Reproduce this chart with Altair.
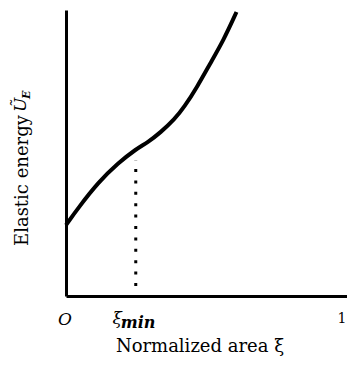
import altair as alt
import pandas as pd

# Curve samples (normalized area vs elastic energy)
xi = [0.0, 0.046, 0.117, 0.187, 0.251, 0.293, 0.339, 0.389, 0.424, 0.470, 0.516, 0.565, 0.611]
energy = [0.248, 0.311, 0.399, 0.465, 0.514, 0.537, 0.572, 0.618, 0.661, 0.731, 0.812, 0.895, 0.993]
xi_min = 0.25
drop_top = 0.475
drop_bottom = 0.035
tick_pos = [0.0, 1.0]
tick_text = ["O", "1"]

W, H = 281, 286
FONT = "DejaVu Serif"

curve_df = pd.DataFrame({"xi": xi, "U": energy})
xs = alt.Scale(domain=[0, 1.007], nice=False, zero=False)
ys = alt.Scale(domain=[0, 1], nice=False, zero=False)

base_axis_x = alt.Axis(domain=True, domainWidth=3, domainColor="black", ticks=False, labels=False,
                       grid=False, title=None)
base_axis_y = alt.Axis(domain=True, domainWidth=3, domainColor="black", ticks=False, labels=False,
                       grid=False, title=None)

curve = alt.Chart(curve_df).mark_line(color="black", strokeWidth=4, interpolate="basis").encode(
    x=alt.X("xi:Q", scale=xs, axis=base_axis_x),
    y=alt.Y("U:Q", scale=ys, axis=base_axis_y),
)

drop = alt.Chart(pd.DataFrame({"x": [xi_min], "y": [drop_bottom], "y2": [drop_top]})).mark_rule(
    color="black", strokeWidth=3, strokeDash=[3, 8.4]
).encode(x=alt.X("x:Q", scale=xs), y=alt.Y("y:Q", scale=ys), y2="y2:Q")

ticks_df = pd.DataFrame({"x": tick_pos, "t": tick_text})
tick_O = alt.Chart(ticks_df.iloc[[0]]).mark_text(
    font=FONT, fontSize=17, fontStyle="italic", color="black", baseline="middle", dx=-1
).encode(x=alt.X("x:Q", scale=xs), y=alt.value(H + 24), text="t:N")
tick_1 = alt.Chart(ticks_df.iloc[[1]]).mark_text(
    font=FONT, fontSize=14, color="black", baseline="middle", dx=-3
).encode(x=alt.X("x:Q", scale=xs), y=alt.value(H + 23), text="t:N")

xi_df = pd.DataFrame({"x": [xi_min], "a": ["ξ"], "b": ["min"]})
xi_lab = alt.Chart(xi_df).mark_text(
    font=FONT, fontSize=17, fontStyle="italic", color="black", align="right", baseline="middle", dx=-14
).encode(x=alt.X("x:Q", scale=xs), y=alt.value(H + 23), text="a:N")
min_lab = alt.Chart(xi_df).mark_text(
    font=FONT, fontSize=16, fontStyle="italic", fontWeight="bold", color="black", align="left",
    baseline="middle", dx=-15
).encode(x=alt.X("x:Q", scale=xs), y=alt.value(H + 27), text="b:N")

xtitle = alt.Chart(pd.DataFrame({"t": ["Normalized area ξ"]})).mark_text(
    font=FONT, fontSize=18, color="black", align="center", baseline="middle"
).encode(x=alt.value(200 - 66), y=alt.value(347 - 10), text="t:N")

ytitle = alt.Chart(pd.DataFrame({"t": ["Elastic energy"]})).mark_text(
    font=FONT, fontSize=18, color="black", align="left", baseline="middle", angle=270
).encode(x=alt.value(23 - 66), y=alt.value(246 - 10), text="t:N")
yU = alt.Chart(pd.DataFrame({"t": ["Ũ"]})).mark_text(
    font=FONT, fontSize=17, fontStyle="italic", color="black", align="left", baseline="middle", angle=270
).encode(x=alt.value(21 - 66), y=alt.value(112 - 10), text="t:N")
yE = alt.Chart(pd.DataFrame({"t": ["E"]})).mark_text(
    font=FONT, fontSize=11, fontStyle="italic", fontWeight="bold", color="black", align="left",
    baseline="middle", angle=270
).encode(x=alt.value(27 - 66), y=alt.value(99 - 10), text="t:N")

chart = alt.layer(curve, drop, tick_O, tick_1, xi_lab, min_lab, xtitle, ytitle, yU, yE).properties(
    width=W, height=H,
    autosize=alt.AutoSizeParams(type="none"),
    padding={"left": 58, "top": 2, "right": 0, "bottom": 61},
    background="white",
).configure_view(stroke=None)

chart.save("out.html", embed_options={"renderer": "svg", "actions": False})
